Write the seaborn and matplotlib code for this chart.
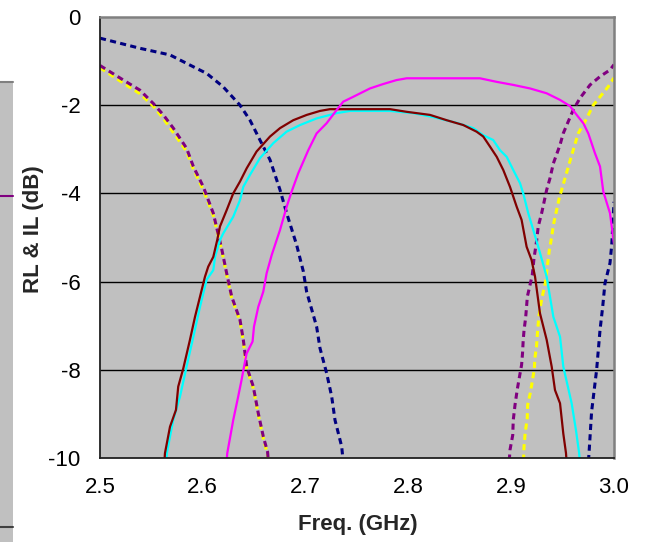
import matplotlib
matplotlib.use("Agg")
import matplotlib.pyplot as plt
from matplotlib.patches import Rectangle
from matplotlib.lines import Line2D
import seaborn as sns
import pandas as pd

# Return loss / insertion loss traces (frequency in GHz, level in dB)
rl1_freq = [2.500, 2.5389, 2.5681, 2.5875, 2.6038, 2.6197, 2.6362, 2.6459, 2.6556,
            2.6654, 2.6751, 2.6816, 2.6913, 2.6978, 2.7010, 2.7107, 2.7140, 2.7205,
            2.7254, 2.7286, 2.7351, 2.7375, 2.86, 2.9745, 2.9760, 2.9782, 2.9831,
            2.9864, 2.9890, 2.9912, 2.9961, 2.9978, 3.000]
rl1_db = [-0.48, -0.71, -0.86, -1.09, -1.28, -1.58, -2.00, -2.34, -2.79,
          -3.24, -3.92, -4.45, -5.17, -5.77, -6.23, -7.02, -7.51, -8.08,
          -8.61, -9.14, -9.74, -10.3, -25.0, -10.3, -9.78, -8.95, -8.00,
          -7.10, -6.57, -6.04, -5.58, -5.17, -4.19]

rl2_freq = [2.500, 2.5227, 2.5389, 2.5518, 2.5616, 2.5713, 2.5843, 2.5908, 2.6005,
            2.6102, 2.6183, 2.6232, 2.6281, 2.6362, 2.6394, 2.6427, 2.6491, 2.6540,
            2.6589, 2.6630, 2.6645, 2.78, 2.8975, 2.8988, 2.9015, 2.9020, 2.9037,
            2.9058, 2.9078, 2.9101, 2.9110, 2.9117, 2.9125, 2.9140, 2.9148, 2.9157,
            2.9172, 2.9205, 2.9222, 2.9247, 2.9263, 2.9296, 2.9345, 2.9377, 2.9410,
            2.9475, 2.9506, 2.9555, 2.9603, 2.9669, 2.9767, 2.9864, 2.9961, 3.000]
rl2_db = [-1.10, -1.43, -1.66, -1.96, -2.22, -2.52, -2.98, -3.39, -3.85,
          -4.45, -5.25, -5.81, -6.34, -6.87, -7.32, -7.93, -8.38, -8.99,
          -9.52, -9.86, -10.3, -30.0, -10.3, -9.82, -9.48, -9.14, -8.80,
          -8.46, -8.19, -7.89, -7.63, -7.32, -7.10, -6.83, -6.61, -6.34,
          -6.19, -5.85, -5.47, -5.08, -4.75, -4.45, -3.92, -3.66, -3.32,
          -2.90, -2.64, -2.37, -2.11, -1.84, -1.54, -1.35, -1.20, -1.08]

rl3_freq = [2.500, 2.5227, 2.5389, 2.5518, 2.5616, 2.5713, 2.5843, 2.5908, 2.6005,
            2.6102, 2.6183, 2.6232, 2.6281, 2.6362, 2.6394, 2.6427, 2.6491, 2.6540,
            2.6589, 2.6630, 2.6640, 2.79, 2.9115, 2.9125, 2.9136, 2.9156, 2.9160,
            2.9185, 2.9204, 2.9225, 2.9230, 2.9247, 2.9252, 2.9263, 2.9267, 2.9296,
            2.9331, 2.9351, 2.9370, 2.9393, 2.9410, 2.9467, 2.9523, 2.9594, 2.9652,
            2.9718, 2.9798, 2.9864, 2.9944, 3.000]
rl3_db = [-1.15, -1.50, -1.74, -2.02, -2.30, -2.62, -3.05, -3.45, -3.92,
          -4.50, -5.28, -5.85, -6.38, -6.90, -7.36, -7.97, -8.42, -9.03,
          -9.56, -9.92, -10.3, -30.0, -10.3, -9.74, -9.43, -9.10, -8.80,
          -8.53, -8.28, -7.98, -7.74, -7.46, -7.26, -6.95, -6.83, -6.40,
          -6.04, -5.66, -5.30, -5.00, -4.72, -4.11, -3.66, -3.09, -2.64,
          -2.37, -2.00, -1.81, -1.58, -1.38]

il1_freq = [2.6225, 2.6238, 2.6296, 2.6344, 2.6377, 2.6401, 2.6426, 2.6484, 2.6498,
            2.6540, 2.6588, 2.6621, 2.6670, 2.6718, 2.6751, 2.6816, 2.6864, 2.6929,
            2.7026, 2.7107, 2.7204, 2.7302, 2.7366, 2.7463, 2.7626, 2.7755, 2.7885,
            2.7983, 2.8696, 2.8858, 2.9020, 2.9183, 2.9345, 2.9475, 2.9572, 2.9637,
            2.9702, 2.9750, 2.9815, 2.9864, 2.9896, 2.9961, 3.000]
il1_db = [-10.3, -9.89, -9.14, -8.61, -8.23, -7.93, -7.63, -7.36, -7.02,
          -6.57, -6.23, -5.81, -5.40, -5.06, -4.83, -4.30, -3.96, -3.54,
          -3.02, -2.64, -2.41, -2.11, -1.92, -1.81, -1.62, -1.52, -1.43,
          -1.39, -1.39, -1.47, -1.54, -1.62, -1.73, -1.88, -2.02, -2.22,
          -2.41, -2.64, -3.09, -3.39, -3.96, -4.45, -5.15]

il2_freq = [2.5620, 2.5632, 2.5681, 2.5739, 2.5761, 2.5810, 2.5875, 2.5924, 2.5973,
            2.6021, 2.6053, 2.6102, 2.6140, 2.6167, 2.6232, 2.6296, 2.6362, 2.6427,
            2.6523, 2.6654, 2.6751, 2.6880, 2.7011, 2.7140, 2.7237, 2.7821, 2.7983,
            2.8210, 2.8372, 2.8534, 2.8663, 2.8728, 2.8794, 2.8859, 2.8923, 2.8988,
            2.9053, 2.9101, 2.9150, 2.9198, 2.9232, 2.9280, 2.9345, 2.9394, 2.9426,
            2.9475, 2.9507, 2.9533, 2.9545]
il2_db = [-10.3, -9.89, -9.29, -8.91, -8.38, -7.97, -7.32, -6.80, -6.34,
          -5.89, -5.66, -5.44, -5.06, -4.75, -4.38, -4.00, -3.73, -3.43,
          -3.05, -2.71, -2.52, -2.34, -2.22, -2.13, -2.09, -2.09, -2.15,
          -2.22, -2.34, -2.45, -2.60, -2.71, -2.94, -3.17, -3.47, -3.85,
          -4.30, -4.60, -5.21, -5.51, -5.89, -6.72, -7.32, -7.93, -8.46,
          -8.76, -9.45, -9.89, -10.3]

il3_freq = [2.5640, 2.5650, 2.5712, 2.5778, 2.5842, 2.5908, 2.5973, 2.6037, 2.6102,
            2.6119, 2.6167, 2.6198, 2.6296, 2.6362, 2.6394, 2.6459, 2.6556, 2.6686,
            2.6815, 2.6946, 2.7107, 2.7302, 2.7432, 2.7821, 2.8047, 2.8242, 2.8469,
            2.8631, 2.8728, 2.8825, 2.8891, 2.8956, 2.9020, 2.9086, 2.9117, 2.9166,
            2.9215, 2.9263, 2.9345, 2.9410, 2.9475, 2.9507, 2.9588, 2.9630, 2.9661,
            2.9675]
il3_db = [-10.3, -9.89, -9.14, -8.61, -7.93, -7.25, -6.57, -5.96, -5.74,
          -5.44, -5.06, -4.91, -4.53, -4.15, -3.85, -3.58, -3.20, -2.86,
          -2.60, -2.45, -2.30, -2.18, -2.13, -2.13, -2.18, -2.27, -2.40,
          -2.52, -2.68, -2.79, -3.02, -3.17, -3.47, -3.77, -4.00, -4.45,
          -4.83, -5.21, -5.89, -6.80, -7.25, -7.93, -8.76, -9.37, -9.89,
          -10.3]

x_ticks = [2.5, 2.6, 2.7, 2.8, 2.9, 3.0]
x_tick_labels = ["2.5", "2.6", "2.7", "2.8", "2.9", "3.0"]
y_ticks = [0, -2, -4, -6, -8, -10]
y_tick_labels = ["0", "-2", "-4", "-6", "-8", "-10"]

sns.set_style("white")
plt.rcParams["font.family"] = ["Liberation Sans", "DejaVu Sans"]

W, H = 646, 542
fig = plt.figure(figsize=(W / 100, H / 100), dpi=100)
ax = fig.add_axes([100 / W, (H - 458) / H, 514 / W, 441 / H])
ax.set_facecolor("#C0C0C0")

dash = (0, (2.0, 1.4))
traces = [
    (rl1_freq, rl1_db, "#000080", dash, 2.2),
    (rl3_freq, rl3_db, "#FFFF00", dash, 2.2),
    (rl2_freq, rl2_db, "#800080", dash, 2.2),
    (il3_freq, il3_db, "#00FFFF", "-", 1.6),
    (il2_freq, il2_db, "#800000", "-", 1.6),
    (il1_freq, il1_db, "#FF00FF", "-", 1.6),
]
for fx, fy, col, ls, lw in traces:
    df = pd.DataFrame({"f": fx, "db": fy})
    sns.lineplot(data=df, x="f", y="db", ax=ax, sort=False, estimator=None,
                 color=col, linestyle=ls, linewidth=lw)

ax.set_xlim(2.5, 3.0)
ax.set_ylim(-10, 0)
ax.set_xticks(x_ticks)
ax.set_xticklabels(x_tick_labels)
ax.set_yticks(y_ticks)
ax.set_yticklabels(y_tick_labels)
ax.tick_params(axis="both", direction="out", width=1, color="black",
               labelsize=16, labelcolor="black")
ax.tick_params(axis="x", length=5, pad=9)
ax.tick_params(axis="y", length=6, pad=8)
ax.grid(False)
for yv in [-2, -4, -6, -8]:
    ax.axhline(yv, color="black", linewidth=1.0, zorder=1.5)

for side in ["left", "bottom"]:
    ax.spines[side].set_color("#202020")
    ax.spines[side].set_linewidth(1.3)
for side in ["top", "right"]:
    ax.spines[side].set_color("#808080")
    ax.spines[side].set_linewidth(1.8)

ax.set_xlabel("Freq. (GHz)", fontsize=16, fontweight="bold")
ax.set_ylabel("RL & IL (dB)", fontsize=16, fontweight="bold")
ax.xaxis.set_label_coords(0.502, -0.127)
ax.yaxis.set_label_coords(-0.109, 0.518)

# Legend panel clipped at the left figure edge
fig.patches.append(Rectangle((0, 0), 12.5 / W, (H - 82) / H, transform=fig.transFigure,
                             facecolor="#C0C0C0", edgecolor="none", zorder=0))
fig.lines.append(Line2D([0, 12.5 / W], [(H - 82) / H] * 2, transform=fig.transFigure,
                        color="#808080", linewidth=1.5))
fig.lines.append(Line2D([0, 12.5 / W], [(H - 527) / H] * 2, transform=fig.transFigure,
                        color="#404040", linewidth=1.5))
fig.lines.append(Line2D([0, 12.5 / W], [(H - 196) / H] * 2, transform=fig.transFigure,
                        color="#800080", linewidth=1.5))

fig.savefig("out.png", dpi=100)
